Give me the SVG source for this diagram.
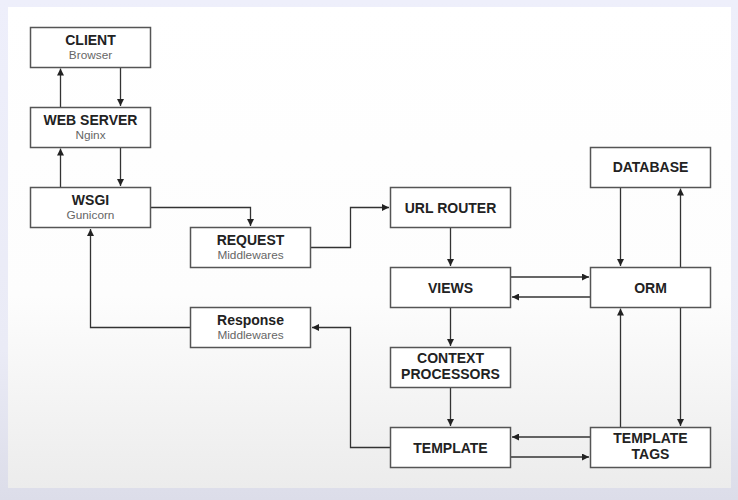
<svg xmlns="http://www.w3.org/2000/svg" width="738" height="500" viewBox="0 0 738 500">
<defs>
<linearGradient id="bg" x1="0" y1="0" x2="0" y2="1">
<stop offset="0" stop-color="#eeeffb"/>
<stop offset="0.7" stop-color="#eaebf6"/>
<stop offset="1" stop-color="#dcdde9"/>
</linearGradient>
<linearGradient id="panel" x1="0" y1="0" x2="0" y2="1">
<stop offset="0" stop-color="#ffffff"/>
<stop offset="0.6" stop-color="#fdfdfd"/>
<stop offset="1" stop-color="#ececec"/>
</linearGradient>
<marker id="ah" viewBox="0 0 10 10" refX="10" refY="5" markerWidth="7" markerHeight="7" orient="auto" markerUnits="userSpaceOnUse">
<path d="M0,0 L10,5 L0,10 z" fill="#222"/>
</marker>
</defs>
<style>
.box{fill:#ffffff;stroke:#555;stroke-width:1.5}
.t{font-family:"Liberation Sans",Arial,sans-serif;font-weight:bold;font-size:14px;fill:#222;text-anchor:middle}
.s{font-family:"Liberation Sans",Arial,sans-serif;font-size:11.8px;fill:#666;text-anchor:middle}
.c{fill:none;stroke:#333;stroke-width:1.3;marker-end:url(#ah)}
</style>
<rect x="0" y="0" width="738" height="500" fill="url(#bg)"/>
<rect x="8" y="7" width="723" height="481" fill="url(#panel)"/>

<g id="connectors">
<path class="c" d="M120.5,67.5 V106"/>
<path class="c" d="M60.5,107.5 V68.5"/>
<path class="c" d="M120.5,147.5 V186"/>
<path class="c" d="M60.5,187.5 V148.5"/>
<path class="c" d="M151,207.5 H250.5 V226"/>
<path class="c" d="M310.5,247.5 H350.5 V207.5 H389"/>
<path class="c" d="M450.5,227.5 V266"/>
<path class="c" d="M510.5,277 H589"/>
<path class="c" d="M590.5,297 H512"/>
<path class="c" d="M620.5,187 V266"/>
<path class="c" d="M680.5,267 V188.5"/>
<path class="c" d="M450.5,307.5 V346"/>
<path class="c" d="M450.5,387.5 V426"/>
<path class="c" d="M590.5,437 H512"/>
<path class="c" d="M510.5,457 H589"/>
<path class="c" d="M620.5,427 V308.5"/>
<path class="c" d="M680.5,307.5 V426"/>
<path class="c" d="M390,447.5 H350.5 V327.5 H312"/>
<path class="c" d="M190,327.5 H90.5 V229"/>
</g>

<g id="client"><rect class="box" x="30.5" y="27.5" width="120" height="40"/><text class="t" x="90.5" y="44.5">CLIENT</text><text class="s" x="90.5" y="59">Browser</text></g>
<g id="webserver"><rect class="box" x="30.5" y="107.5" width="120" height="40"/><text class="t" x="90.5" y="124.5">WEB SERVER</text><text class="s" x="90.5" y="139">Nginx</text></g>
<g id="wsgi"><rect class="box" x="30.5" y="187.5" width="120" height="40"/><text class="t" x="90.5" y="204.5">WSGI</text><text class="s" x="90.5" y="219">Gunicorn</text></g>
<g id="request"><rect class="box" x="190.5" y="227.5" width="120" height="40"/><text class="t" x="250.5" y="244.5">REQUEST</text><text class="s" x="250.5" y="259">Middlewares</text></g>
<g id="response"><rect class="box" x="190.5" y="307.5" width="120" height="40"/><text class="t" x="250.5" y="324.5">Response</text><text class="s" x="250.5" y="339">Middlewares</text></g>
<g id="urlrouter"><rect class="box" x="390.5" y="187.5" width="120" height="40"/><text class="t" x="450.5" y="212.5">URL ROUTER</text></g>
<g id="views"><rect class="box" x="390.5" y="267.5" width="120" height="40"/><text class="t" x="450.5" y="292.5">VIEWS</text></g>
<g id="context"><rect class="box" x="390.5" y="347.5" width="120" height="40"/><text class="t" x="450.5" y="363">CONTEXT</text><text class="t" x="450.5" y="379">PROCESSORS</text></g>
<g id="template"><rect class="box" x="390.5" y="427.5" width="120" height="40"/><text class="t" x="450.5" y="452.5">TEMPLATE</text></g>
<g id="database"><rect class="box" x="590.5" y="147.5" width="120" height="40"/><text class="t" x="650.5" y="171.5">DATABASE</text></g>
<g id="orm"><rect class="box" x="590.5" y="267.5" width="120" height="40"/><text class="t" x="650.5" y="292.5">ORM</text></g>
<g id="templatetags"><rect class="box" x="590.5" y="427.5" width="120" height="40"/><text class="t" x="650.5" y="443">TEMPLATE</text><text class="t" x="650.5" y="459">TAGS</text></g>
</svg>
